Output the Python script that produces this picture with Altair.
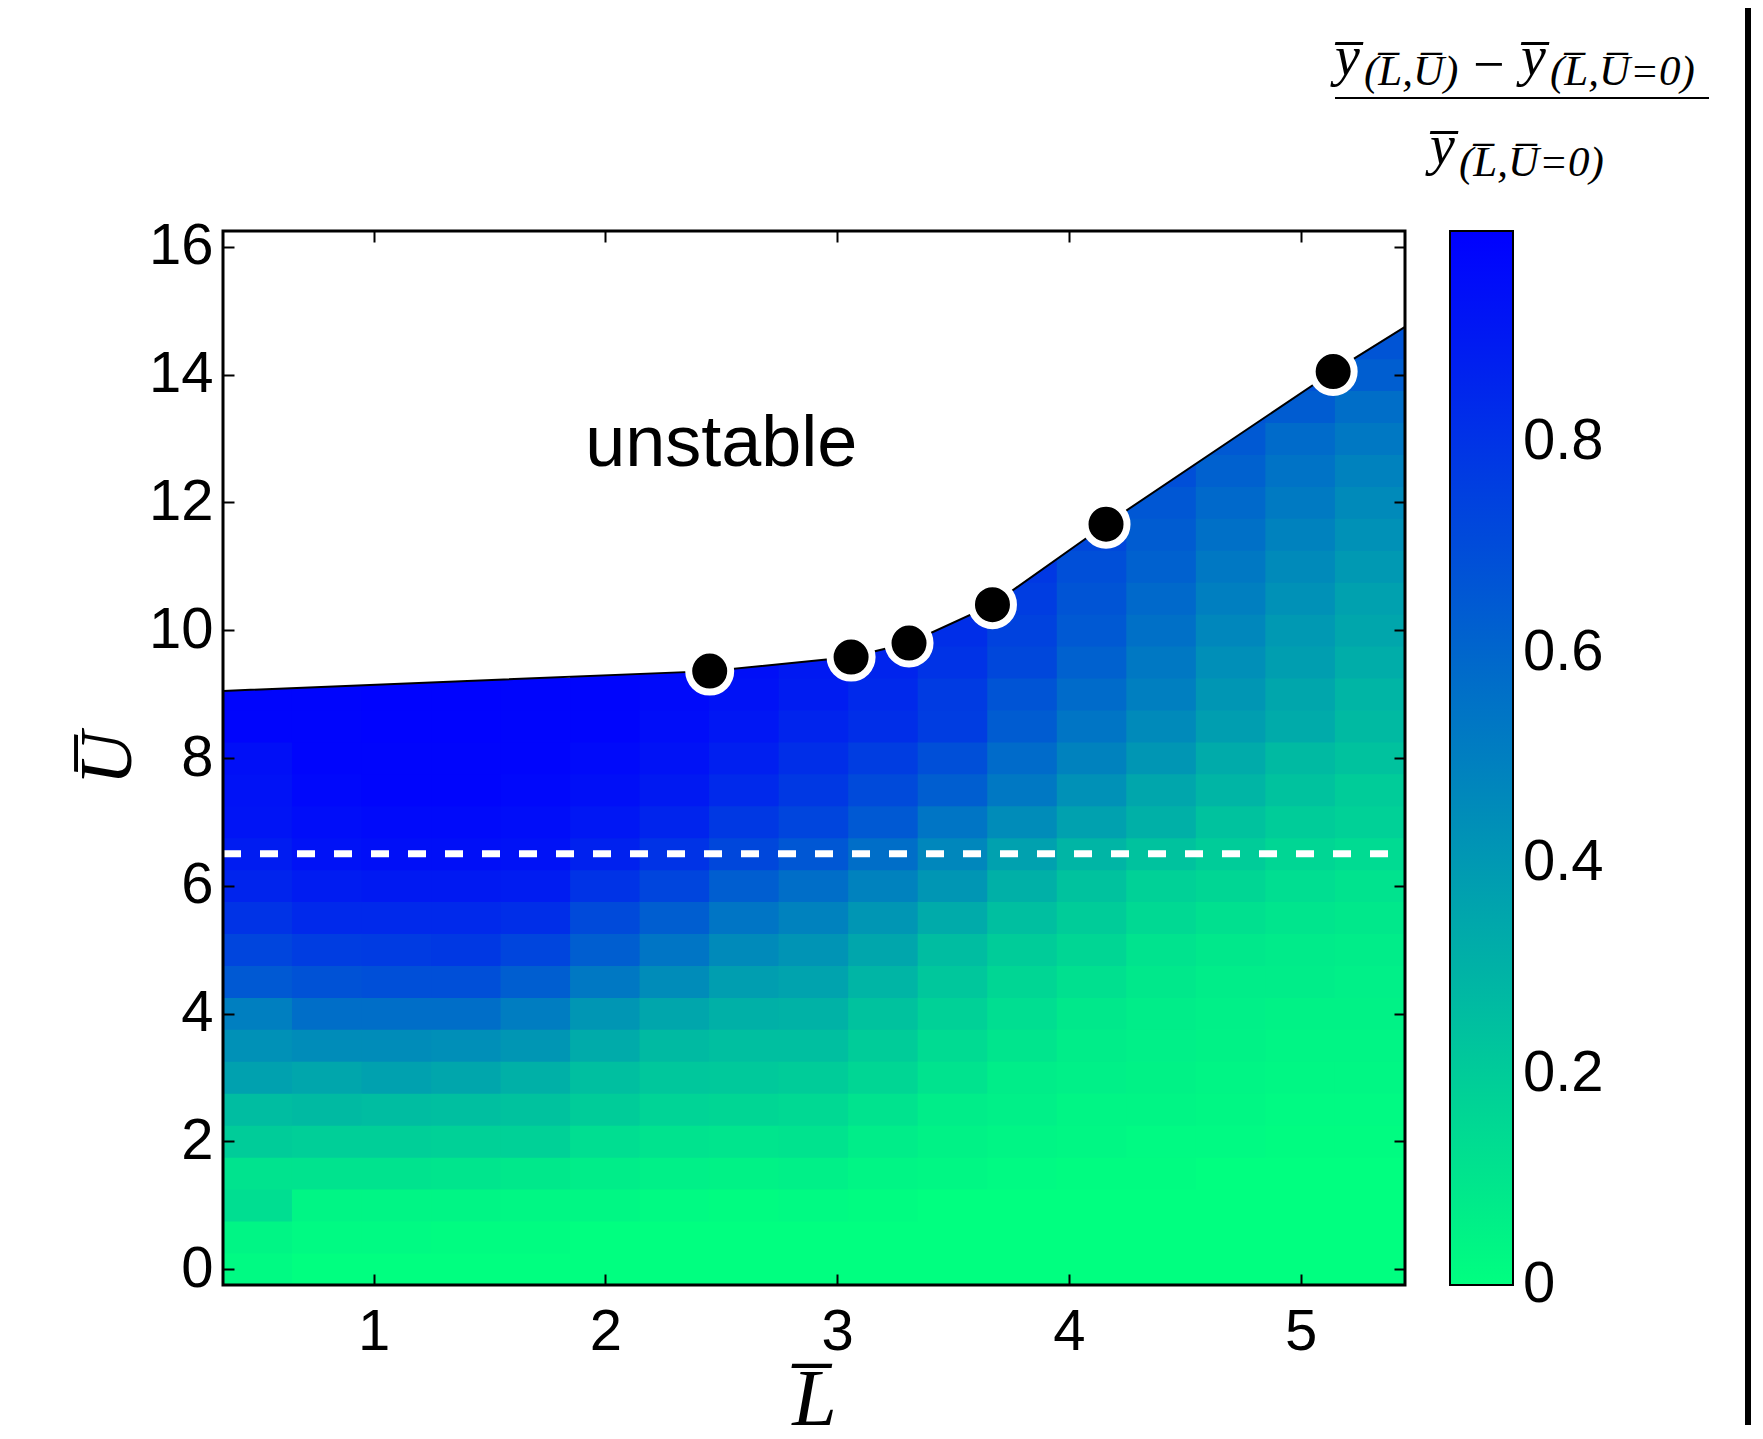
import altair as alt
import pandas as pd

# ---------------- data ----------------
# column centres (L bar) of the map cells
L_centers = [0.5, 0.8, 1.1, 1.4, 1.7, 2.0, 2.3, 2.6, 2.9, 3.2, 3.5, 3.8, 4.1, 4.4, 4.7, 5.0, 5.3]
# row centres (U bar) of the map cells
U_levels = [0.0, 0.5, 1.0, 1.5, 2.0, 2.5, 3.0, 3.5, 4.0, 4.5, 5.0, 5.5, 6.0, 6.5, 7.0,
            7.5, 8.0, 8.5, 9.0, 9.5, 10.0, 10.5, 11.0, 11.5, 12.0, 12.5, 13.0, 13.5, 14.0, 14.5]

# relative change, one list per column, from U = 0 upwards (up to the stability boundary)
v_L050 = [0.02, 0.04, 0.13, 0.11, 0.20, 0.26, 0.37, 0.43, 0.50, 0.65, 0.73, 0.80, 0.86, 0.89, 0.92, 0.93, 0.94, 0.98, 0.98]
v_L080 = [0.00, 0.02, 0.04, 0.11, 0.19, 0.27, 0.35, 0.45, 0.57, 0.68, 0.76, 0.84, 0.89, 0.93, 0.95, 0.97, 0.98, 0.98, 0.98]
v_L110 = [0.00, 0.02, 0.04, 0.11, 0.19, 0.26, 0.37, 0.45, 0.57, 0.69, 0.77, 0.84, 0.90, 0.94, 0.96, 0.98, 0.98, 0.99, 0.99]
v_L140 = [0.00, 0.01, 0.04, 0.10, 0.18, 0.25, 0.35, 0.44, 0.57, 0.69, 0.78, 0.84, 0.90, 0.94, 0.96, 0.98, 0.98, 0.99, 0.99]
v_L170 = [0.00, 0.01, 0.03, 0.09, 0.18, 0.24, 0.31, 0.41, 0.51, 0.63, 0.73, 0.82, 0.89, 0.93, 0.95, 0.97, 0.98, 0.98, 0.98]
v_L200 = [0.00, 0.00, 0.03, 0.07, 0.13, 0.20, 0.25, 0.33, 0.41, 0.53, 0.63, 0.71, 0.80, 0.87, 0.91, 0.94, 0.96, 0.98, 0.98, 0.98]
v_L230 = [0.00, 0.00, 0.02, 0.06, 0.11, 0.17, 0.22, 0.27, 0.35, 0.45, 0.54, 0.63, 0.73, 0.80, 0.86, 0.90, 0.93, 0.95, 0.96, 0.97]
v_L260 = [0.00, 0.00, 0.01, 0.05, 0.10, 0.16, 0.21, 0.25, 0.31, 0.38, 0.46, 0.54, 0.63, 0.72, 0.78, 0.84, 0.88, 0.91, 0.93, 0.94]
v_L290 = [0.00, 0.00, 0.02, 0.06, 0.11, 0.15, 0.20, 0.25, 0.30, 0.36, 0.42, 0.49, 0.57, 0.66, 0.73, 0.78, 0.82, 0.86, 0.89, 0.90]
v_L320 = [0.00, 0.00, 0.01, 0.04, 0.07, 0.11, 0.16, 0.20, 0.24, 0.29, 0.35, 0.41, 0.49, 0.57, 0.65, 0.71, 0.76, 0.82, 0.84, 0.86, 0.87]
v_L350 = [0.00, 0.00, 0.00, 0.03, 0.05, 0.07, 0.11, 0.14, 0.18, 0.22, 0.26, 0.33, 0.41, 0.47, 0.54, 0.63, 0.69, 0.76, 0.77, 0.80, 0.82, 0.84]
v_L380 = [0.00, 0.00, 0.00, 0.02, 0.04, 0.06, 0.07, 0.10, 0.13, 0.16, 0.20, 0.25, 0.31, 0.37, 0.45, 0.53, 0.58, 0.64, 0.67, 0.72, 0.74, 0.76, 0.78]
v_L410 = [0.00, 0.00, 0.00, 0.01, 0.03, 0.04, 0.06, 0.07, 0.09, 0.12, 0.16, 0.20, 0.24, 0.29, 0.37, 0.43, 0.49, 0.54, 0.58, 0.62, 0.65, 0.67, 0.69, 0.72, 0.73]
v_L440 = [0.00, 0.00, 0.00, 0.01, 0.02, 0.04, 0.05, 0.06, 0.07, 0.09, 0.11, 0.15, 0.18, 0.24, 0.31, 0.35, 0.41, 0.46, 0.50, 0.53, 0.56, 0.59, 0.62, 0.64, 0.66, 0.69]
v_L470 = [0.00, 0.00, 0.00, 0.00, 0.02, 0.03, 0.04, 0.05, 0.06, 0.07, 0.09, 0.12, 0.16, 0.20, 0.24, 0.29, 0.33, 0.38, 0.41, 0.44, 0.47, 0.50, 0.53, 0.56, 0.59, 0.62, 0.65, 0.67]
v_L500 = [0.00, 0.00, 0.00, 0.00, 0.01, 0.02, 0.03, 0.04, 0.05, 0.07, 0.08, 0.10, 0.13, 0.16, 0.20, 0.24, 0.27, 0.33, 0.35, 0.38, 0.40, 0.43, 0.46, 0.49, 0.52, 0.55, 0.58, 0.64, 0.68]
v_L530 = [0.00, 0.00, 0.00, 0.00, 0.01, 0.02, 0.03, 0.04, 0.05, 0.06, 0.07, 0.09, 0.11, 0.14, 0.18, 0.20, 0.24, 0.27, 0.29, 0.32, 0.35, 0.37, 0.40, 0.43, 0.46, 0.49, 0.53, 0.57, 0.63, 0.67]
v_columns = [v_L050, v_L080, v_L110, v_L140, v_L170, v_L200, v_L230, v_L260, v_L290,
             v_L320, v_L350, v_L380, v_L410, v_L440, v_L470, v_L500, v_L530]

# stability boundary (black line) and the marked points on it
bound_L = [0.35, 2.45, 3.06, 3.31, 3.67, 4.16, 5.14, 5.45]
bound_U = [9.05, 9.36, 9.58, 9.80, 10.40, 11.66, 14.05, 14.75]
pts_L = [2.45, 3.06, 3.31, 3.67, 4.16, 5.14]
pts_U = [9.36, 9.58, 9.80, 10.40, 11.66, 14.05]

# white dashed reference line
dash_U = [6.5]
dash_L_start = [0.35]
dash_L_end = [5.40]

# annotation
note_text = ["unstable"]
note_L = [2.5]
note_U = [12.57]

x_ticks = [1, 2, 3, 4, 5]
y_ticks = [0, 2, 4, 6, 8, 10, 12, 14, 16]
cbar_ticks = [0, 0.2, 0.4, 0.6, 0.8]
cbar_range = [-0.00001, 1.0]

# ---------------- tables ----------------
rows = []
for Lc, col in zip(L_centers, v_columns):
    for Uc, val in zip(U_levels, col):
        rows.append({"L": Lc, "U": Uc, "v": val})
heat_df = pd.DataFrame(rows)
bound_df = pd.DataFrame({"L": bound_L, "U": bound_U})
pts_df = pd.DataFrame({"L": pts_L, "U": pts_U})
dash_df = pd.DataFrame({"L0": dash_L_start, "L1": dash_L_end, "U": dash_U})
note_df = pd.DataFrame({"L": note_L, "U": note_U, "t": note_text})
cbar_df = pd.DataFrame({"c": cbar_ticks})

# ---------------- styling ----------------
W, H = 1182, 1054
U_TOP = 16.25
CB_X, CB_W = 1227, 63          # colour bar position / width (plot-area pixels)
X_SCALE = alt.Scale(domain=[0.35, 5.45], nice=False, zero=False)
Y_SCALE = alt.Scale(domain=[-0.25, U_TOP], nice=False, zero=False)
C_SCALE = alt.Scale(domain=cbar_range, range=["#00ff80", "#0000ff"], interpolate="rgb")
CB_SCALE = alt.Scale(domain=cbar_range, range=[H, 0], nice=False, zero=False)

SANS = "Liberation Sans"
SERIF = "Liberation Serif"

axis_common = dict(domain=False, grid=False, ticks=True, tickSize=11, tickWidth=2,
                   tickColor="black", offset=-11, zindex=2, labelFont=SANS, labelFontSize=58,
                   labelColor="black", titleFont=SERIF, titleFontStyle="italic",
                   titleFontWeight="normal", titleColor="black")

# cells (tiny overlap so that no hairline seams show between neighbours)
heat = alt.Chart(heat_df).transform_calculate(
    x0="datum.L - 0.1525", x1="datum.L + 0.1525",
    y0="datum.U - 0.256", y1="datum.U + 0.256",
).mark_rect(strokeWidth=0).encode(
    x=alt.X("x0:Q", scale=X_SCALE,
            axis=alt.Axis(orient="bottom", values=x_ticks, format="d", title="L\u0305",
                          titleFontSize=80, labelPadding=18, titlePadding=0, **axis_common)),
    x2="x1:Q",
    y=alt.Y("y0:Q", scale=Y_SCALE,
            axis=alt.Axis(orient="left", values=y_ticks, format="d", title="U\u0305",
                          titleFontSize=74, labelPadding=10, titlePadding=2, **axis_common)),
    y2="y1:Q",
    fill=alt.Fill("v:Q", scale=C_SCALE,
                  legend=alt.Legend(type="gradient", orient="none", legendX=CB_X, legendY=0,
                                    direction="vertical", title=None,
                                    gradientLength=H, gradientThickness=CB_W,
                                    gradientStrokeColor="black", gradientStrokeWidth=2,
                                    values=cbar_ticks, format=".1~f",
                                    labelFont=SANS, labelFontSize=58, labelColor="black",
                                    labelOffset=10, labelOverlap=False, labelLimit=400,
                                    padding=0)),
)

white = alt.Chart(bound_df).transform_calculate(
    top=str(U_TOP)
).mark_area(fill="white", opacity=1, interpolate="linear").encode(
    x=alt.X("L:Q", scale=X_SCALE, axis=None),
    y=alt.Y("U:Q", scale=Y_SCALE, axis=None, stack=None),
    y2="top:Q",
)

line = alt.Chart(bound_df).mark_line(color="black", strokeWidth=2).encode(
    x=alt.X("L:Q", scale=X_SCALE,
            axis=alt.Axis(orient="top", values=x_ticks, labels=False, title=None, **axis_common)),
    y=alt.Y("U:Q", scale=Y_SCALE,
            axis=alt.Axis(orient="right", values=y_ticks, labels=False, title=None, **axis_common)),
    order="L:Q",
)

dash = alt.Chart(dash_df).mark_rule(color="white", strokeWidth=7, strokeDash=[18, 19]).encode(
    x=alt.X("L0:Q", scale=X_SCALE, axis=None),
    x2="L1:Q",
    y=alt.Y("U:Q", scale=Y_SCALE, axis=None),
)

pts = alt.Chart(pts_df).mark_point(shape="circle", filled=True, fill="black", stroke="white",
                                   strokeWidth=7, size=1764, opacity=1,
                                   fillOpacity=1, strokeOpacity=1).encode(
    x=alt.X("L:Q", scale=X_SCALE, axis=None),
    y=alt.Y("U:Q", scale=Y_SCALE, axis=None),
)

note = alt.Chart(note_df).mark_text(font=SANS, fontSize=72, align="center",
                                    baseline="alphabetic", color="black").encode(
    x=alt.X("L:Q", scale=X_SCALE, axis=None),
    y=alt.Y("U:Q", scale=Y_SCALE, axis=None),
    text="t:N",
)

# small inward ticks on both edges of the colour bar
cb_ticks_left = alt.Chart(cbar_df).mark_rule(color="black", strokeWidth=2).encode(
    x=alt.value(CB_X), x2=alt.value(CB_X + 11),
    y=alt.Y("c:Q", scale=CB_SCALE, axis=None),
)
cb_ticks_right = alt.Chart(cbar_df).mark_rule(color="black", strokeWidth=2).encode(
    x=alt.value(CB_X + CB_W - 11), x2=alt.value(CB_X + CB_W),
    y=alt.Y("c:Q", scale=CB_SCALE, axis=None),
)

one = alt.Data(values=[{"k": 1}])

# plot frame drawn above the marks
frame = alt.Chart(one).mark_rect(fillOpacity=0, stroke="black", strokeWidth=3).encode(
    x=alt.value(0), x2=alt.value(W), y=alt.value(0), y2=alt.value(H))


# colour-bar title: (y(L,U) - y(L,U=0)) / y(L,U=0)
def piece(txt, px, py, size, italic=True):
    return alt.Chart(one).mark_text(
        text=txt, font=SERIF, fontSize=size, fontStyle="italic" if italic else "normal",
        align="left", baseline="alphabetic", color="black",
    ).encode(x=alt.value(px), y=alt.value(py))


frac = [
    piece("y\u0305", 1112, -156, 56),
    piece("(L\u0305,U\u0305)", 1141, -146, 43),
    piece("\u2212", 1250, -148, 56, italic=False),
    piece("y\u0305", 1298, -156, 56),
    piece("(L\u0305,U\u0305=0)", 1327, -146, 43),
    piece("y\u0305", 1207, -67, 56),
    piece("(L\u0305,U\u0305=0)", 1236, -55, 43),
]
frac_bar = alt.Chart(one).mark_rule(color="black", strokeWidth=2).encode(
    x=alt.value(1112), x2=alt.value(1486), y=alt.value(-133))

edge = alt.Chart(one).mark_rule(color="black", strokeWidth=12).encode(
    x=alt.value(1528), y=alt.value(-231), y2=alt.value(1200))

chart = alt.layer(
    heat, white, line, dash, pts, note, frame, cb_ticks_left, cb_ticks_right,
    *frac, frac_bar, edge
).resolve_axis(
    x="independent", y="independent"
).resolve_scale(
    y="independent"
).properties(
    width=W, height=H,
    padding={"left": 215, "top": 223, "right": 346, "bottom": 140},
    autosize=alt.AutoSizeParams(type="none"),
    background="white",
).configure_view(strokeWidth=0)

chart.save("out.html", embed_options={"renderer": "svg", "actions": False})
